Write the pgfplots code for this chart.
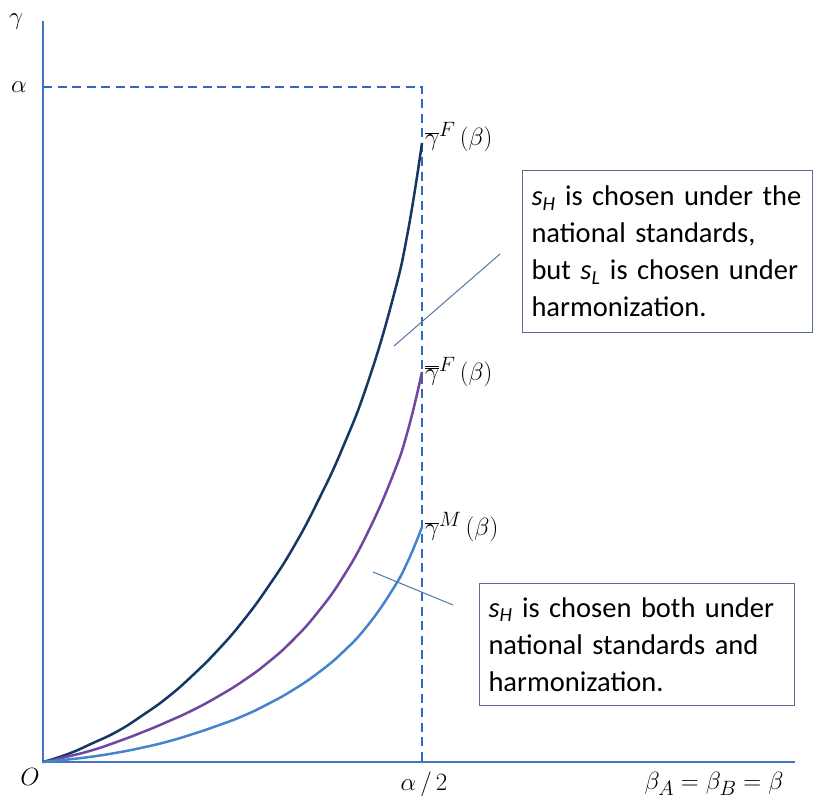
\documentclass[border=0pt]{standalone}
\usepackage{pgfplots}
\pgfplotsset{compat=1.18}
\usepackage{fontspec}
\setmainfont{Carlito}

\definecolor{axisblue}{RGB}{68,114,196}
\definecolor{dashblue}{RGB}{46,106,190}
\definecolor{curvenavy}{RGB}{22,54,100}
\definecolor{curvepurple}{RGB}{112,70,160}
\definecolor{curvelight}{RGB}{68,132,204}
\definecolor{pointer}{RGB}{80,118,168}
\definecolor{boxline}{RGB}{90,110,150}

% thresholds as functions of beta (same units as the axis)
\pgfplotstableread{
x y
0 0
25 8
50 19
75 31
100 47
125 65
150 87
175 112
200 141
225 175
250 214
275 261
300 315
325 380
350 464
365 531
379 619
}\gammaF

\pgfplotstableread{
x y
0 0
25 5.5
50 12
75 20.5
100 30
125 40.5
150 52
175 65.5
200 81
225 99.5
250 122
275 150
300 185
325 230
350 287
365 332
379 390
}\gammaFF

\pgfplotstableread{
x y
0 0
25 2.5
50 5.5
75 9.5
100 14.5
125 20.5
150 28
175 36.5
200 46
225 58
250 72
275 89
300 110
325 137
350 173
365 201
379 235
}\gammaM

\begin{document}
\begin{tikzpicture}
\begin{axis}[
  x=1pt, y=1pt,
  xmin=-43, xmax=774, ymin=-41, ymax=762,
  hide axis, clip=false,
]
% page frame
\path (axis cs:-43,-41) rectangle (axis cs:774,762);
% axes
\draw[axisblue, line width=1.4pt] (axis cs:0,741) -- (axis cs:0,0) -- (axis cs:752,0);
% alpha level and alpha/2 bound
\addplot[dashblue, line width=2.8pt, dash pattern=on 9pt off 5.5pt]
  coordinates {(0,675) (379,675) (379,0)};

\addplot[curvenavy, line width=2.5pt, smooth, tension=0.8] table {\gammaF};
\addplot[curvepurple, line width=2.5pt, smooth, tension=0.8] table {\gammaFF};
\addplot[curvelight, line width=2.5pt, smooth, tension=0.8] table {\gammaM};

% pointers to the regions
\addplot[pointer, line width=1pt] coordinates {(351,416) (457,508)};
\addplot[pointer, line width=1pt] coordinates {(330,190) (410,157)};

% axis labels
\node at (axis cs:-27,740) {\fontsize{28}{30}\selectfont$\gamma$};
\node at (axis cs:-24,675) {\fontsize{30}{32}\selectfont$\alpha$};
\node at (axis cs:-13,-15) {\fontsize{30}{32}\selectfont$O$};
\node at (axis cs:381,-22) {\fontsize{30}{32}\selectfont$\alpha\,/\,2$};
\node at (axis cs:671,-22) {\fontsize{30}{32}\selectfont$\beta_A=\beta_B=\beta$};

% curve labels
\node[anchor=west, inner sep=0pt] at (axis cs:382,625)
  {\fontsize{32}{34}\selectfont$\overline{\gamma}^{F}\,(\beta)$};
\node[anchor=west, inner sep=0pt] at (axis cs:382,390)
  {\fontsize{32}{34}\selectfont$\overline{\overline{\gamma}}^{F}\,(\beta)$};
\node[anchor=west, inner sep=0pt] at (axis cs:382,235)
  {\fontsize{32}{34}\selectfont$\overline{\gamma}^{M}\,(\beta)$};

% region descriptions
\node[draw=boxline, line width=1pt, anchor=north west, inner xsep=9pt, inner ysep=0pt,
      text width=272pt, minimum height=162pt, align=left,
      font=\fontsize{28.5}{37}\selectfont]
  at (axis cs:479,592)
  {{\itshape s\textsubscript{H}} is chosen under the\\
   national standards,\\
   but {\itshape s\textsubscript{L}} is chosen under\\
   harmonization.};
\node[draw=boxline, line width=1pt, anchor=north west, inner xsep=9pt, inner ysep=0pt,
      text width=297pt, minimum height=122pt, align=left,
      font=\fontsize{28.5}{37}\selectfont]
  at (axis cs:436,179)
  {{\itshape s\textsubscript{H}} is chosen both under\\
   national standards and\\
   harmonization.};
\end{axis}
\end{tikzpicture}
\end{document}
